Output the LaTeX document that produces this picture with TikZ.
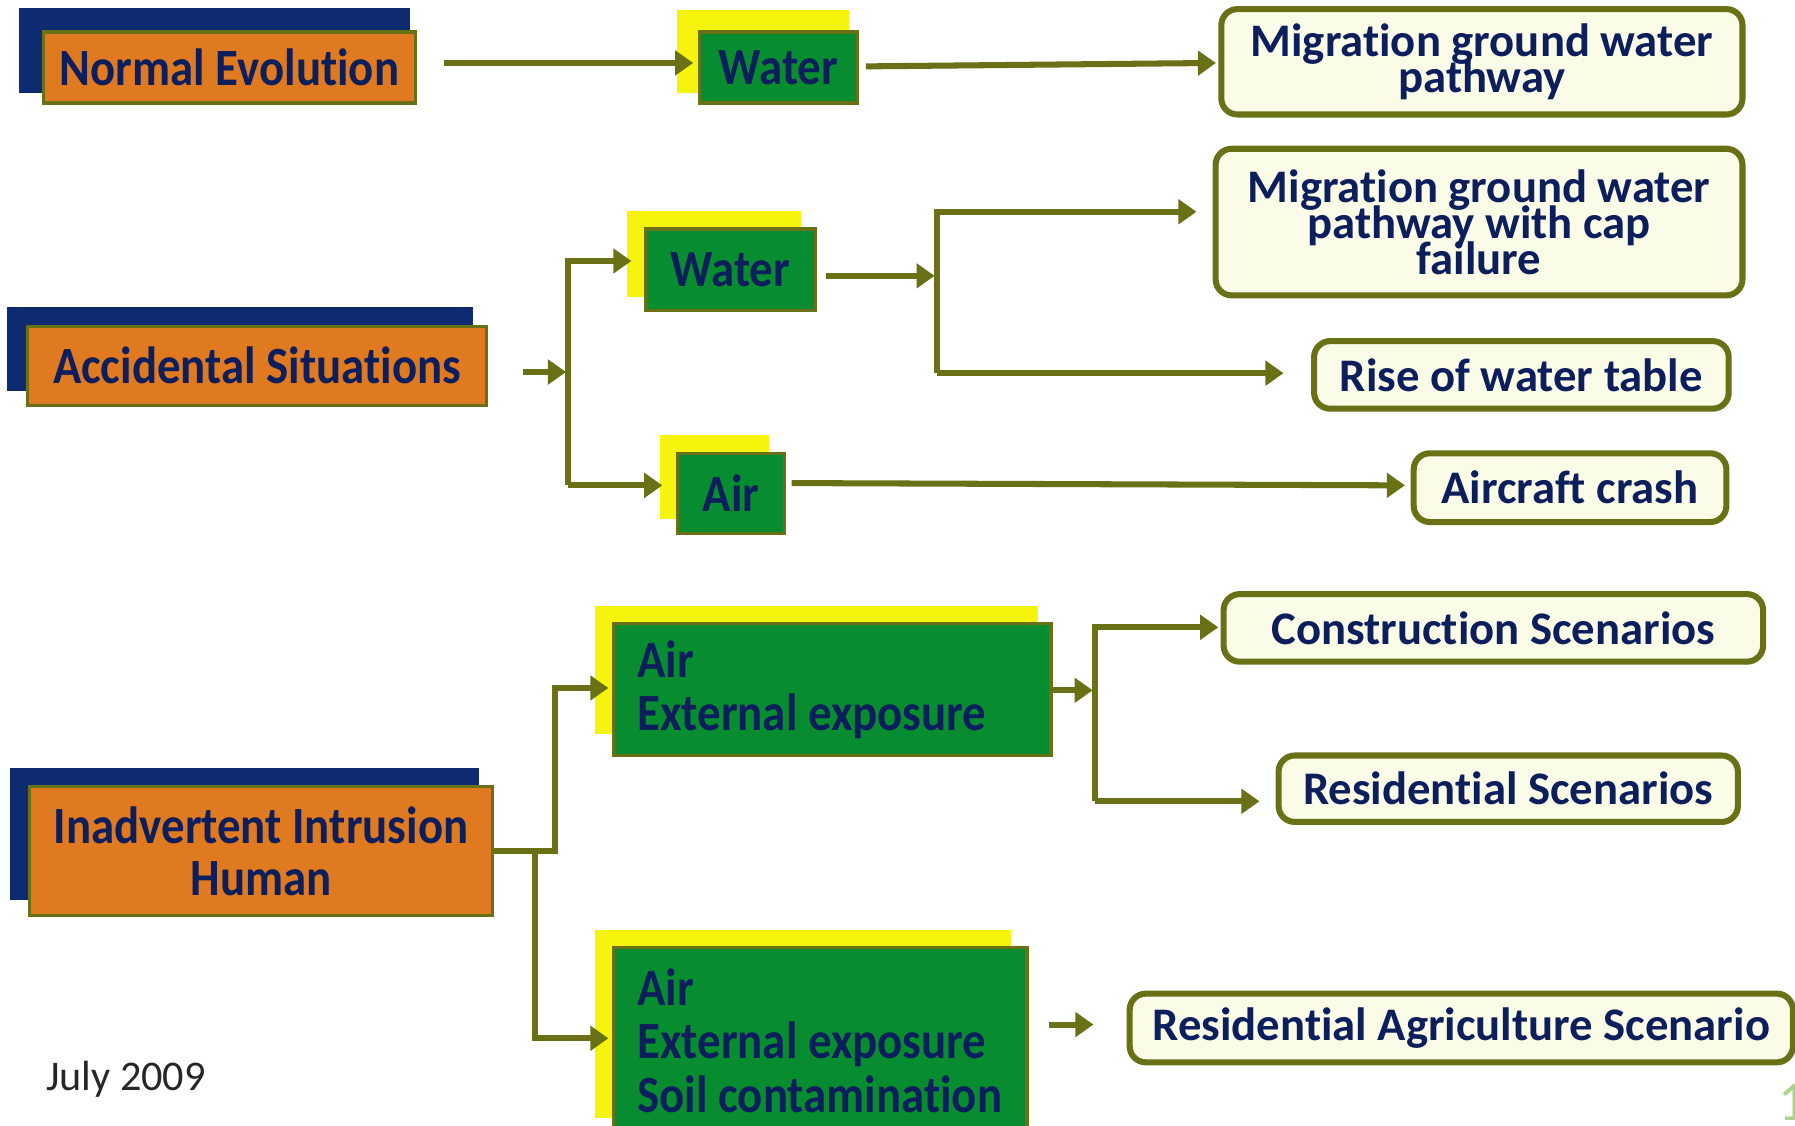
\documentclass[tikz,border=0pt]{standalone}
\usepackage{fontspec}
\setmainfont[Ligatures=NoCommon]{Carlito}
\newfontfamily\condfont[FakeStretch=0.895, Ligatures=NoCommon]{Carlito}
\usetikzlibrary{arrows.meta,calc,backgrounds}

\newcommand\tightlines{\lineskiplimit=-20pt\relax\lineskip=0pt\relax}

\definecolor{navytext}{RGB}{12,30,92}
\definecolor{navyback}{RGB}{14,42,112}
\definecolor{boxorange}{RGB}{224,122,32}
\definecolor{boxgreen}{RGB}{8,140,48}
\definecolor{boxyellow}{RGB}{246,244,12}
\definecolor{olive}{RGB}{106,112,22}
\definecolor{pale}{RGB}{250,252,232}
\definecolor{pagegreen}{RGB}{170,210,140}

\tikzset{
  obox/.style={fill=boxorange, draw=olive, line width=0.8pt, text=navytext,
    inner sep=0pt, align=center,
    font=\condfont\bfseries\fontsize{13}{12.8}\selectfont},
  gbox/.style={fill=boxgreen, draw=olive, line width=0.8pt, text=navytext,
    inner sep=0pt, align=center,
    font=\condfont\bfseries\fontsize{13}{13.3}\selectfont},
  gleft/.style={gbox, align=flush left, inner xsep=0.21cm},
  rbox/.style={fill=pale, draw=olive, line width=1.5pt, rounded corners=4pt,
    text=navytext, inner sep=0pt, align=center,
    font=\bfseries\fontsize{11.6}{9}\selectfont\tightlines},
  link/.style={draw=olive, line width=1.5pt},
  arr/.style={link, -{Triangle[length=4.5pt,width=6pt]}},
}

\begin{document}
\begin{tikzpicture}[x=0.01cm, y=-0.01cm]
\useasboundingbox (0,0) rectangle (1568,983);
\clip (0,0) rectangle (1568,983);

% ---- category boxes (orange)
\node[obox, minimum width=3.25cm, minimum height=0.62cm] (ne) at (200.5,59) {Normal Evolution};
\node[obox, minimum width=4.01cm, minimum height=0.69cm] (as) at (224.5,319.5) {Accidental Situations};
\node[obox, minimum width=4.04cm, minimum height=1.13cm] (ii) at (228,743.5) {Inadvertent Intrusion\\Human};

% ---- pathway boxes (green)
\node[gbox, minimum width=1.38cm, minimum height=0.62cm] (w1) at (680,59) {Water};
\node[gbox, minimum width=1.48cm, minimum height=0.71cm] (w2) at (638,235.5) {Water};
\node[gbox, minimum width=0.93cm, minimum height=0.70cm] (a2) at (638.5,431) {Air};
\node[gleft, text width=3.40cm, minimum height=1.15cm] (g1) at (727,602.5) {Air\\External exposure};
\node[gleft, text width=3.19cm, minimum height=1.62cm] (g2) at (716.5,909) {Air\\External exposure\\\mbox{Soil contamination}};

% ---- scenario boxes
\node[rbox, minimum width=4.55cm, minimum height=0.92cm] (m1) at (1294.5,54) {Migration ground water\\pathway};
\node[rbox, minimum width=4.60cm, minimum height=1.28cm] (m2) at (1292,194) {Migration ground water\\pathway with cap\\failure};
\node[rbox, minimum width=3.62cm, minimum height=0.59cm] (rw) at (1329,327.5) {Rise of water table};
\node[rbox, minimum width=2.73cm, minimum height=0.60cm] (ac) at (1371.5,426) {Aircraft crash};
\node[rbox, minimum width=4.71cm, minimum height=0.59cm] (cs) at (1304.5,548.5) {Construction Scenarios};
\node[rbox, minimum width=4.01cm, minimum height=0.58cm] (rs) at (1317.5,689) {Residential Scenarios};
\node[rbox, minimum width=5.79cm, minimum height=0.60cm] (ra) at (1276.5,898) {Residential Agriculture Scenario};

% ---- offset back panels
\begin{scope}[on background layer]
  \fill[white] (0,0) rectangle (1568,983);
  \fill[navyback] ($(ne.north west)+(-20,-20)$) rectangle ($(ne.south east)+(-6,-10)$);
  \fill[navyback] ($(as.north west)+(-16,-15)$) rectangle ($(as.south east)+(-13,-14)$);
  \fill[navyback] ($(ii.north west)+(-16,-15)$) rectangle ($(ii.south east)+(-13,-15)$);
  \fill[boxyellow] ($(w1.north west)+(-18,-18)$) rectangle ($(w1.south east)+(-9,-10)$);
  \fill[boxyellow] ($(w2.north west)+(-15,-14)$) rectangle ($(w2.south east)+(-14,-13)$);
  \fill[boxyellow] ($(a2.north west)+(-14,-15)$) rectangle ($(a2.south east)+(-15,-14)$);
  \fill[boxyellow] ($(g1.north west)+(-15,-14)$) rectangle ($(g1.south east)+(-13,-20)$);
  \fill[boxyellow] ($(g2.north west)+(-15,-14)$) rectangle ($(g2.south east)+(-15,-15)$);
\end{scope}

% ---- Normal evolution
\draw[arr] ($(ne.east)+(23,-4)$) -- ($(w1.west)+(-4,-4)$);
\draw[arr] ($(w1.east)+(6,-1)$) -- ($(m1.west)+(-2,1)$);

% ---- Accidental situations
\coordinate (j1) at ($(as.east)+(70,5.5)$);
\coordinate (w2in) at ($(w2.west)+(-11,-7.5)$);
\coordinate (a2in) at ($(a2.west)+(-12,-7)$);
\draw[arr] ($(as.east)+(30,5.5)$) -- ($(j1)+(-2,0)$);
\draw[arr] (j1 |- a2in) -- (j1 |- w2in) -- (w2in);
\draw[arr] (j1 |- a2in) -- (a2in);

\coordinate (j2) at ($(w2.east)+(105,5.5)$);
\coordinate (m2in) at ($(m2.west)+(-14,-9)$);
\coordinate (rwin) at ($(rw.west)+(-24,-1.5)$);
\draw[arr] ($(w2.east)+(8,5.5)$) -- ($(j2)+(-2,0)$);
\draw[arr] (j2 |- rwin) -- (j2 |- m2in) -- (m2in);
\draw[arr] (j2 |- rwin) -- (rwin);

\draw[arr] ($(a2.east)+(5,-9)$) -- ($(ac.west)+(-5,-2)$);

% ---- Inadvertent intrusion
\coordinate (j3) at ($(ii.east)+(53,0)$);
\coordinate (j4) at ($(ii.east)+(36,0)$);
\coordinate (g1in) at ($(g1.west)+(-3,-1.5)$);
\coordinate (g2in) at ($(g2.west)+(-3,-2)$);
\draw[arr] (ii.east) -- (j3) -- (j3 |- g1in) -- (g1in);
\draw[arr] (j4) -- (j4 |- g2in) -- (g2in);

\coordinate (j5) at ($(g1.east)+(37,0.5)$);
\coordinate (csin) at ($(cs.west)+(-2,-0.5)$);
\coordinate (rsin) at ($(rs.west)+(-14,11)$);
\draw[arr] ($(g1.east)+(0,0.5)$) -- ($(j5)+(-2,0)$);
\draw[arr] (j5 |- rsin) -- (j5 |- csin) -- (csin);
\draw[arr] (j5 |- rsin) -- (rsin);

\draw[arr] ($(g2.east)+(18,-14)$) -- ($(ra.west)+(-29,-3)$);

% ---- footer
\node[text=black!85, font=\fontsize{10.5}{12}\selectfont] (date) at (110,943) {July 2009};
\node[anchor=west, text=pagegreen, font=\fontsize{14}{16}\selectfont] (page) at (1541,962) {18};
\end{tikzpicture}
\end{document}
